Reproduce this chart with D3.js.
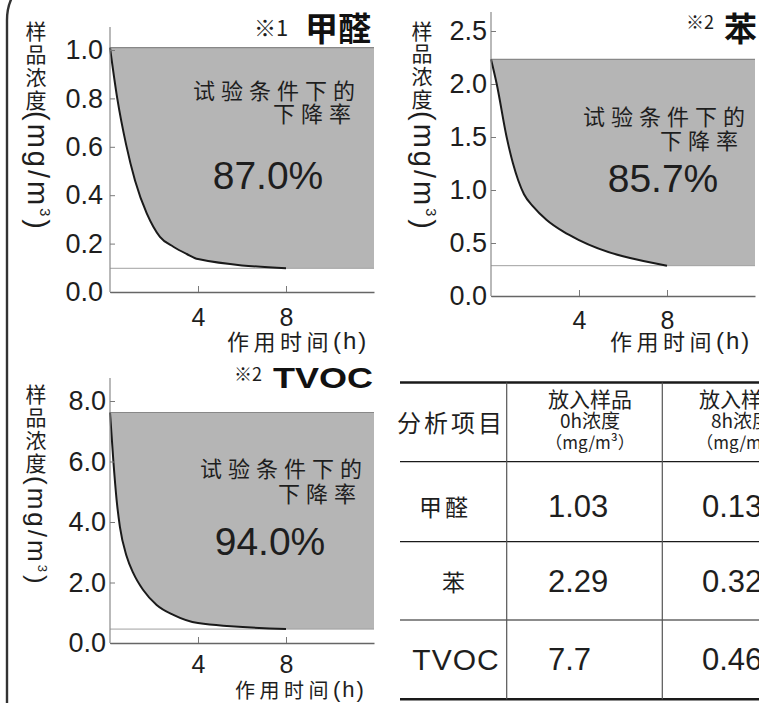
<!DOCTYPE html>
<html><head><meta charset="utf-8">
<script src="https://cdn.jsdelivr.net/npm/d3@7"></script>
<style>
html,body{margin:0;padding:0;background:#fff;overflow:hidden}
svg{display:block}
</style></head><body>
<svg id="c" width="759" height="703"></svg>
<script>
// ---------- data ----------
const timeDomain = [0, 12];
const xTickValues = [4, 8];

const hoursHCHO = [0, 0.33, 0.73, 1.14, 1.67, 1.97, 2.27, 2.88, 3.49, 4, 8];
const concHCHO  = [1.01, 0.80, 0.61, 0.46, 0.325, 0.27, 0.228, 0.187, 0.157, 0.136, 0.098];
const yTicksHCHO = [0, 0.2, 0.4, 0.6, 0.8, 1.0];

const hoursBenzene = [0, 0.26, 0.71, 1.0, 1.24, 1.5, 1.92, 2.53, 3.29, 4, 8];
const concBenzene  = [2.233, 2.0, 1.5, 1.25, 1.09, 0.96, 0.843, 0.717, 0.607, 0.528, 0.286];
const yTicksBenzene = [0, 0.5, 1.0, 1.5, 2.0, 2.5];

const hoursTVOC = [0, 0.15, 0.3, 0.45, 0.76, 1.06, 1.5, 2.12, 2.88, 4, 8];
const concTVOC  = [7.62, 6.04, 4.73, 3.84, 2.86, 2.31, 1.76, 1.26, 0.93, 0.66, 0.46];
const yTicksTVOC = [0, 2, 4, 6, 8];

const reductionRates = ["87.0%", "85.7%", "94.0%"];
const chartNotes = ["※1", "※2", "※2"];
const chartNames = ["甲醛", "苯", "TVOC"];
const yTitleChars = ["样", "品", "浓", "度"];
const yTitleUnit = "(mg/m";
const xTitleCJK = "作用时间";
const xTitleUnit = "(h)";
const annotLines = ["试验条件下的", "下降率"];

const tableHead1 = "分析项目";
const tableHead0h = ["放入样品", "0h浓度", "（mg/m³）"];
const tableHead8h = ["放入样品", "8h浓度", "（mg/m³）"];
const tableItems = ["甲醛", "苯", "TVOC"];
const conc0h = ["1.03", "2.29", "7.7"];
const conc8h = ["0.13", "0.32", "0.46"];

// ---------- drawing ----------
const LAT = "'Liberation Sans', Arial, sans-serif";
const CJK = "'Noto Sans CJK SC', 'Noto Sans', sans-serif";
const INK = "#1e1e1e";
const svg = d3.select("#c");

// outer frame (rounded corner at top-left)
svg.append("rect").attr("x", 7).attr("y", -32).attr("width", 900).attr("height", 900)
  .attr("rx", 52).attr("fill", "none").attr("stroke", "#333").attr("stroke-width", 2.4);

function drawChart(o) {
  const g = svg.append("g");
  const x = d3.scaleLinear().domain(timeDomain).range([o.x0, o.x0 + 264]);
  const y = d3.scaleLinear().domain([0, o.yMax]).range([o.yBottom, o.yTop]);
  const pts = o.hours.map((h, i) => [h, o.conc[i]]);
  const v0 = o.conc[0], vEnd = o.conc[o.conc.length - 1], tEnd = o.hours[o.hours.length - 1];
  const curve = d3.curveMonotoneX;

  // shaded region above the decay curve
  g.append("path")
    .attr("d", d3.area().x(d => x(d[0])).y0(y(v0)).y1(d => y(d[1])).curve(curve)(pts))
    .attr("fill", "#b5b5b5");
  g.append("rect").attr("x", x(tEnd) - 0.8).attr("y", y(v0))
    .attr("width", x(timeDomain[1]) - x(tEnd) + 0.8).attr("height", y(vEnd) - y(v0))
    .attr("fill", "#b5b5b5");
  g.append("line").attr("x1", x(0)).attr("x2", x(timeDomain[1])).attr("y1", y(v0)).attr("y2", y(v0))
    .attr("stroke", "#888").attr("stroke-width", 1.2);
  g.append("line").attr("x1", x(0)).attr("x2", x(timeDomain[1])).attr("y1", y(vEnd)).attr("y2", y(vEnd))
    .attr("stroke", "#a0a0a0").attr("stroke-width", 1);

  // curve
  g.append("path").attr("d", d3.line().x(d => x(d[0])).y(d => y(d[1])).curve(curve)(pts))
    .attr("fill", "none").attr("stroke", "#1a1a1a").attr("stroke-width", 2);

  // y axis
  g.append("line").attr("x1", o.x0).attr("x2", o.x0).attr("y1", o.axisTop).attr("y2", o.yBottom)
    .attr("stroke", "#8a8a8a").attr("stroke-width", 1.2);
  const ya = g.append("g").attr("transform", `translate(${o.x0},0)`)
    .call(d3.axisLeft(y).tickValues(o.yTicks).tickFormat(d3.format(".1f"))
      .tickSizeInner(-5).tickSizeOuter(0).tickPadding(o.labPad));
  ya.select(".domain").remove();
  ya.selectAll("line").attr("stroke", "#7a7a7a");
  ya.selectAll("text").attr("font-family", LAT).attr("font-size", 27).attr("fill", INK);

  // x axis
  const xa = g.append("g").attr("transform", `translate(0,${o.yBottom})`)
    .call(d3.axisBottom(x).tickValues(xTickValues).tickFormat(d3.format("d"))
      .tickSizeInner(-6).tickSizeOuter(0).tickPadding(o.xLabPad));
  xa.select(".domain").attr("stroke", "#666").attr("stroke-width", 1.5);
  xa.selectAll("line").attr("stroke", "#7a7a7a");
  xa.selectAll("text").attr("font-family", LAT).attr("font-size", 25).attr("fill", INK);

  // x title
  const xt = g.append("text").attr("x", o.xtX).attr("y", o.xtY).attr("dominant-baseline", "central")
    .attr("fill", INK);
  xt.append("tspan").attr("font-family", CJK).attr("font-size", o.xtSize)
    .attr("letter-spacing", o.xtSpace).text(xTitleCJK);
  xt.append("tspan").attr("font-family", LAT).attr("font-size", o.xtSize + 2)
    .attr("letter-spacing", 2).text(xTitleUnit);

  // y title (vertical)
  yTitleChars.forEach((c, i) => {
    g.append("text").attr("x", o.ytX).attr("y", o.ytYs[i]).attr("text-anchor", "middle")
      .attr("dominant-baseline", "central").attr("font-family", CJK).attr("font-size", 21)
      .attr("fill", INK).text(c);
  });
  const yt = g.append("text").attr("transform", `translate(${o.ytX},${o.ytUnit}) rotate(90)`)
    .attr("y", 8).attr("font-family", LAT).attr("font-size", o.ytSize).attr("fill", INK)
    .attr("letter-spacing", 3);
  yt.append("tspan").text(yTitleUnit);
  yt.append("tspan").attr("font-size", o.ytSize * 0.5).attr("dy", -o.ytSize * 0.4).text("3");
  yt.append("tspan").attr("dy", o.ytSize * 0.4).text(")");

  // annotation
  [o.a1, o.a2].forEach((a, k) => {
    g.append("text").attr("x", a[0]).attr("y", a[1]).attr("dominant-baseline", "central")
      .attr("font-family", CJK).attr("font-size", 22).attr("fill", INK)
      .attr("letter-spacing", 6).text(annotLines[k]);
  });
  g.append("text").attr("x", o.pct[0]).attr("y", o.pct[1]).attr("text-anchor", "middle")
    .attr("dominant-baseline", "central").attr("font-family", LAT).attr("font-size", 39)
    .attr("fill", INK).text(reductionRates[o.i]);

  // title
  g.append("text").attr("x", o.noteX).attr("y", o.noteY).attr("font-family", CJK)
    .attr("font-size", o.noteSize).attr("fill", INK).text(chartNotes[o.i]);
  const t = g.append("text").attr("x", o.nameX).attr("y", o.nameY)
    .attr("font-family", o.nameLatin ? LAT : CJK).attr("font-weight", "bold")
    .attr("font-size", o.nameLatin ? 30 : 33).attr("fill", "#111").text(chartNames[o.i]);
  if (o.nameW) t.attr("textLength", o.nameW).attr("lengthAdjust", "spacingAndGlyphs");
}

drawChart({i: 0, hours: hoursHCHO, conc: concHCHO, yTicks: yTicksHCHO, yMax: 1.0,
  x0: 110, yBottom: 292, yTop: 50, axisTop: 27, labPad: 7, xLabPad: 16,
  xtX: 227, xtY: 340, xtSize: 22, xtSpace: 4.5,
  ytX: 36, ytYs: [30, 53, 76, 99], ytUnit: 111, ytSize: 29,
  a1: [193, 89], a2: [273, 112], pct: [268, 175],
  noteX: 254, noteY: 36, noteSize: 22, nameX: 305, nameY: 41});

drawChart({i: 1, hours: hoursBenzene, conc: concBenzene, yTicks: yTicksBenzene, yMax: 2.5,
  x0: 491, yBottom: 296, yTop: 31, axisTop: 12, labPad: 4, xLabPad: 15,
  xtX: 610, xtY: 340, xtSize: 22, xtSpace: 4.5,
  ytX: 422, ytYs: [30, 52, 75, 98], ytUnit: 111, ytSize: 29,
  a1: [583, 115], a2: [660, 139], pct: [663, 178],
  noteX: 686, noteY: 29, noteSize: 18, nameX: 724, nameY: 41});

drawChart({i: 2, hours: hoursTVOC, conc: concTVOC, yTicks: yTicksTVOC, yMax: 8,
  x0: 110, yBottom: 643, yTop: 401, axisTop: 378, labPad: 4, xLabPad: 12,
  xtX: 235, xtY: 689, xtSize: 20, xtSpace: 4.5,
  ytX: 36, ytYs: [393, 416, 439, 462], ytUnit: 476, ytSize: 26,
  a1: [200, 467], a2: [278, 492], pct: [270, 541],
  noteX: 234, noteY: 381, noteSize: 18, nameX: 273, nameY: 388, nameLatin: true, nameW: 100});

// ---------- table ----------
const tb = svg.append("g");
const colX = [400, 506.7, 662.3, 830];
const rowY = [382.5, 461.7, 541.7, 620, 699.3];
tb.selectAll("line.h").data(rowY).join("line")
  .attr("x1", colX[0]).attr("x2", colX[3]).attr("y1", d => d).attr("y2", d => d)
  .attr("stroke", "#1a1a1a").attr("stroke-width", (d, i) => (i === 0 || i === rowY.length - 1) ? 2.6 : 1.2);
tb.selectAll("line.v").data(colX.slice(1, 3)).join("line")
  .attr("x1", d => d).attr("x2", d => d).attr("y1", rowY[0]).attr("y2", rowY[rowY.length - 1])
  .attr("stroke", "#555").attr("stroke-width", 1.2);

tb.append("text").attr("x", 397).attr("y", 421).attr("dominant-baseline", "central")
  .attr("font-family", CJK).attr("font-size", 24).attr("fill", INK)
  .attr("textLength", 105).attr("lengthAdjust", "spacing").text(tableHead1);
const headY = [397.5, 419, 441], headSize = [21, 19, 17];
[[tableHead0h, 590], [tableHead8h, 741]].forEach(([lines, cx]) => {
  lines.forEach((s, k) => {
    tb.append("text").attr("x", cx).attr("y", headY[k]).attr("text-anchor", "middle")
      .attr("dominant-baseline", "central").attr("font-family", CJK)
      .attr("font-size", headSize[k]).attr("fill", INK).text(s);
  });
});
const rowCenters = [506, 581, 659];
const itemX = [445, 455, 456];
tableItems.forEach((s, r) => {
  tb.append("text").attr("x", itemX[r]).attr("y", rowCenters[r]).attr("text-anchor", "middle")
    .attr("dominant-baseline", "central")
    .attr("font-family", s === "TVOC" ? LAT : CJK).attr("font-size", s === "TVOC" ? 30 : 23)
    .attr("letter-spacing", s === "TVOC" ? 1 : 3).attr("fill", INK).text(s);
  tb.append("text").attr("x", 548).attr("y", rowCenters[r]).attr("dominant-baseline", "central")
    .attr("font-family", LAT).attr("font-size", 31).attr("fill", INK).text(conc0h[r]);
  tb.append("text").attr("x", 702).attr("y", rowCenters[r]).attr("dominant-baseline", "central")
    .attr("font-family", LAT).attr("font-size", 31).attr("fill", INK).text(conc8h[r]);
});
</script>
</body></html>
